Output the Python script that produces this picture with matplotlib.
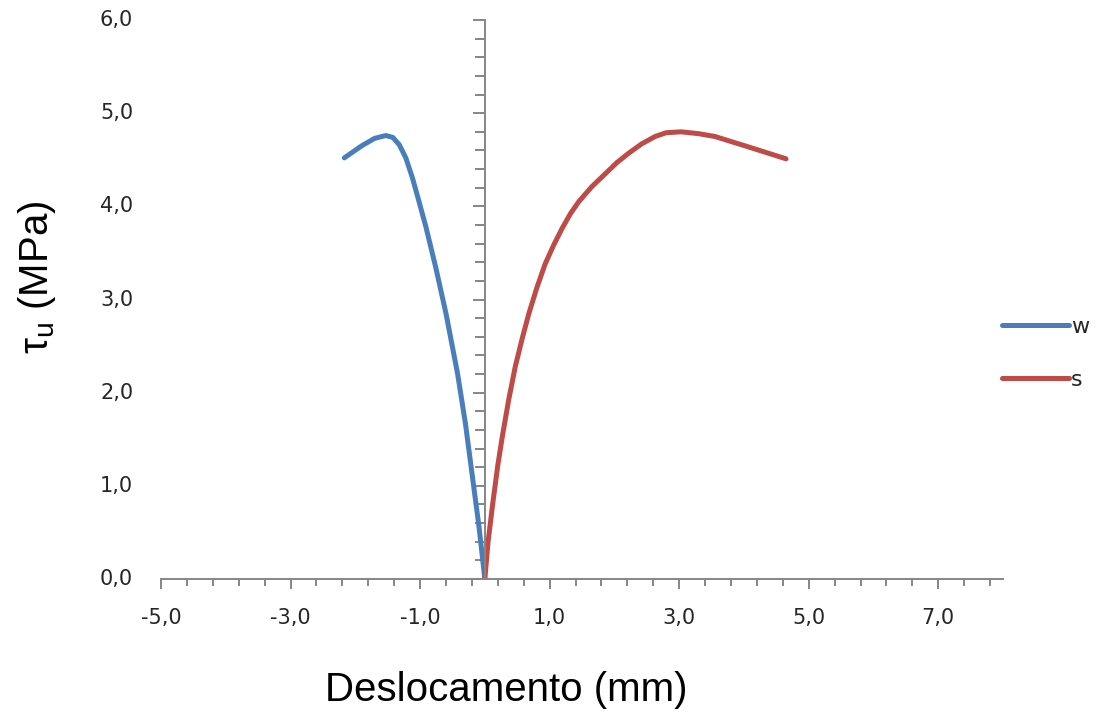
import matplotlib
matplotlib.use("Agg")
import matplotlib.pyplot as plt
from matplotlib.ticker import FixedLocator, FuncFormatter

# Bond stress vs. slip, two loading directions
w_slip = [-2.17, -1.90, -1.70, -1.53, -1.42, -1.32, -1.22, -1.12, -1.02,
          -0.91, -0.76, -0.60, -0.42, -0.30, -0.20, -0.09, 0.0]
w_stress = [4.52, 4.65, 4.73, 4.76, 4.74, 4.66, 4.52, 4.31, 4.06,
            3.78, 3.35, 2.85, 2.20, 1.67, 1.14, 0.56, 0.0]

s_slip = [0.0, 0.05, 0.12, 0.20, 0.27, 0.37, 0.47, 0.58, 0.68, 0.80, 0.93,
          1.06, 1.19, 1.32, 1.45, 1.65, 1.86, 2.04, 2.22, 2.42, 2.63, 2.80,
          3.03, 3.30, 3.55, 4.06, 4.65]
s_stress = [0.0, 0.40, 0.80, 1.22, 1.53, 1.93, 2.28, 2.59, 2.85, 3.12, 3.38,
            3.58, 3.76, 3.92, 4.05, 4.21, 4.35, 4.47, 4.57, 4.67, 4.75, 4.79,
            4.80, 4.78, 4.75, 4.64, 4.51]

series_labels = ["w", "s"]
series_colors = ["#4A7EBB", "#BE4B48"]

x_major = [-5, -3, -1, 1, 3, 5, 7]
x_minor = [-5 + 0.4 * i for i in range(33)]
y_major = [0, 1, 2, 3, 4, 5, 6]
y_minor = [0.2 * i for i in range(31)]

plt.rcParams["mathtext.fontset"] = "custom"
plt.rcParams["mathtext.rm"] = "Liberation Sans"

W, H = 1098, 715
fig = plt.figure(figsize=(W / 100, H / 100), dpi=100)
ax = fig.add_axes([161 / W, 1 - 579 / H, (1003 - 161) / W, (579 - 20) / H])

ax.plot(w_slip, w_stress, color=series_colors[0], lw=3.6,
        solid_joinstyle="round", solid_capstyle="round", label=series_labels[0])
ax.plot(s_slip, s_stress, color=series_colors[1], lw=3.6,
        solid_joinstyle="round", solid_capstyle="round", label=series_labels[1])

ax.set_xlim(-5, 8)
ax.set_ylim(0, 6)

axis_gray = "#868686"
for side in ("top", "right"):
    ax.spines[side].set_visible(False)
ax.spines["left"].set_position(("data", 0))
ax.spines["bottom"].set_position(("data", 0))
for side in ("left", "bottom"):
    ax.spines[side].set_color(axis_gray)
    ax.spines[side].set_linewidth(1.4)

ax.xaxis.set_major_locator(FixedLocator(x_major))
ax.xaxis.set_minor_locator(FixedLocator(x_minor))
ax.yaxis.set_major_locator(FixedLocator(y_major))
ax.yaxis.set_minor_locator(FixedLocator(y_minor))

comma = FuncFormatter(lambda v, p: f"{v:.1f}".replace(".", ","))
ax.xaxis.set_major_formatter(comma)

tick_fs = 15
ax.tick_params(axis="x", which="major", direction="out", length=7.2, width=1.4,
               color=axis_gray, pad=14, labelsize=tick_fs, labelcolor="#262626")
ax.tick_params(axis="x", which="minor", direction="out", length=5, width=1.4,
               color=axis_gray)
ax.tick_params(axis="y", which="major", direction="out", length=8.6, width=1.4,
               color=axis_gray, labelleft=False)
ax.tick_params(axis="y", which="minor", direction="out", length=7.2, width=1.4,
               color=axis_gray)

# y tick labels sit at the left edge of the plot area
for y in y_major:
    ax.text(-0.033, y, comma(y, None), transform=ax.get_yaxis_transform(),
            ha="right", va="center", fontsize=tick_fs, color="#262626",
            family="DejaVu Sans")

fig.text(506 / W, 1 - 690 / H, "Deslocamento (mm)", ha="center", va="center",
         fontsize=29, family="Liberation Sans", color="black")
fig.text(37 / W, 1 - 277 / H, r"τ$_\mathregular{u}$ (MPa)", ha="center",
         va="center", rotation=90, fontsize=29, family="Liberation Sans",
         color="black")

leg = ax.legend(loc="center left", bbox_to_anchor=(1002 / W, 1 - 353.5 / H),
                bbox_transform=fig.transFigure, frameon=False, borderpad=0,
                borderaxespad=0, handlelength=3.0, handletextpad=0.1,
                labelspacing=1.5, prop={"family": "DejaVu Sans", "size": 16})
for t in leg.get_texts():
    t.set_color("#262626")

fig.savefig("out.png", dpi=100)
